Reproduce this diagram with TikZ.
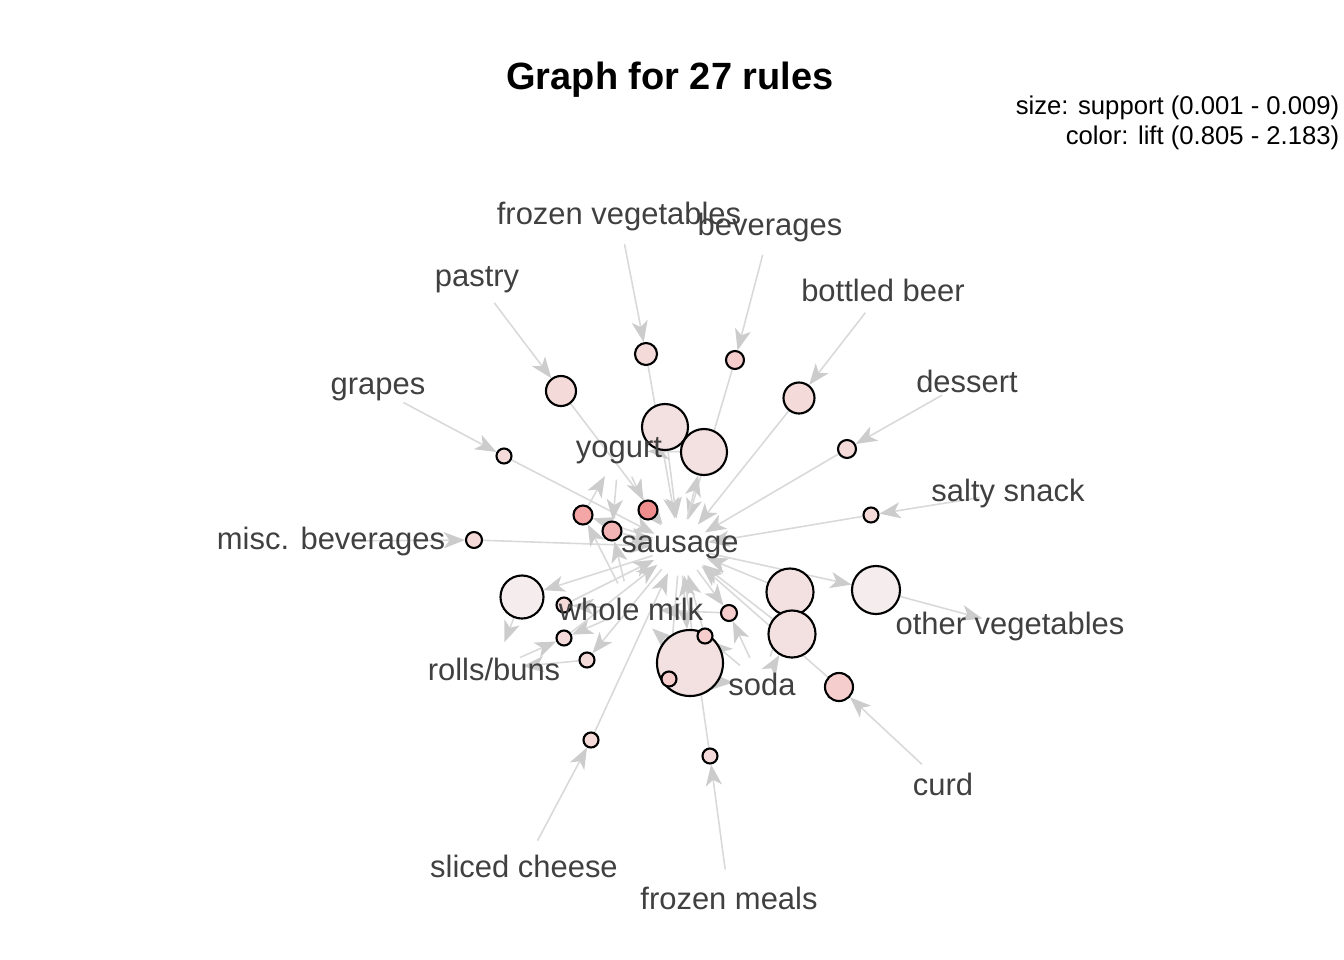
\documentclass[tikz,border=0pt]{standalone}
\usepackage{fontspec}
\setmainfont{Liberation Sans}
\usepackage{xcolor}
\usetikzlibrary{positioning,shapes,arrows.meta,calc,backgrounds}

\definecolor{lblgray}{HTML}{404040}
\definecolor{pale}{HTML}{F5EDED}
\definecolor{midA}{HTML}{F3E0E0}
\definecolor{pinkA}{HTML}{F5DADA}
\definecolor{pinkB}{HTML}{F5CDCD}
\definecolor{redA}{HTML}{F4A6A6}
\definecolor{redB}{HTML}{F2B4B4}
\definecolor{redC}{HTML}{EF8C8C}

\begin{document}
\begin{tikzpicture}[x=0.01cm,y=-0.01cm,
    item/.style={circle,inner sep=0pt,minimum size=5.6mm},
    rule/.style={circle,draw=black,semithick,inner sep=0pt},
    lbl/.style={text=lblgray,font=\fontsize{8.8}{10}\selectfont,inner sep=0pt},
    legend/.style={anchor=east,inner sep=0pt,font=\fontsize{7.3}{9}\selectfont},
    link/.style={draw=gray!30,line width=0.45pt,
        -{Stealth[length=6pt,width=4.6pt,inset=1.6pt,color=gray!40]}}]
    \useasboundingbox (0,0) rectangle (1344,960);

    % title and legend
    \node[font=\fontsize{10.8}{13}\selectfont\bfseries] (title) at (670,80) {Graph for 27 rules};
    \node[legend] (sizeleg) at (1340,108) {size: support (0.001 - 0.009)};
    \node[legend] (colleg) at (1340,138) {color: lift (0.805 - 2.183)};

    % item vertices
    \foreach \n/\x/\y in {fv/619/216, bev/770/227, pastry/477/280, beer/883/290,
                          grapes/378/389, dessert/967/381, yogurt/619/451, salty/1008/493,
                          misc/331/541, sausage/680/547, milk/631/609, otherveg/1010/626,
                          rolls/494/669, soda/762/684, curd/943/784, cheese/524/866,
                          meals/729/898}
        \node[item] (\n) at (\x,\y) {};

    % rule vertices
    \foreach \n/\x/\y/\r/\c in {r1/646/354/11/pinkA, r2/735/360/9/pinkB, r3/561/391/15/pinkA,
                                r4/799/398/15.5/pinkA, r5/504/456/7.5/pinkA, r6/847/449/9/pinkA,
                                r7/665/427/23/midA, r8/704/452/23/midA, r9/871/515/7.5/pinkA,
                                r10/474/540/8/pinkA, r11/583/515/9.5/redA, r12/612/531/9.5/redB,
                                r13/648/510/9.5/redC, r14/522/597/21.5/pale, r15/564/605/7.5/pinkA,
                                r16/564/638/7.5/pinkA, r17/587/660/7.5/pinkA, r18/690/663/33/midA,
                                r19/669/679/7.5/pinkB, r20/705/636/7.5/pinkB, r21/729/613/8/pinkB,
                                r22/790/592/23.5/midA, r23/792/634/23.5/midA, r24/876/590/24/pale,
                                r25/839/687/14/pinkB, r26/591/740/7.5/pinkA, r27/710/756/7.5/pinkA}
        \node[rule,fill=\c,minimum size=\r*0.2mm] (\n) at (\x,\y) {};

    % connectors
    \begin{scope}[on background layer]
    \foreach \a/\b in {fv/r1, r1/sausage, bev/r2, r2/sausage, pastry/r3, r3/sausage,
                       beer/r4, r4/sausage, grapes/r5, r5/sausage, dessert/r6, r6/sausage,
                       yogurt/r7, r7/sausage, sausage/r8, r8/yogurt, salty/r9, r9/sausage,
                       misc/r10, r10/sausage, sausage/r11, milk/r11, r11/yogurt,
                       yogurt/r12, milk/r12, r12/sausage, yogurt/r13, r13/sausage,
                       sausage/r14, r14/rolls, milk/r15, r15/sausage,
                       rolls/r16, milk/r16, r16/sausage, sausage/r17, r17/rolls,
                       sausage/r18, r18/milk, sausage/r19, r19/soda,
                       soda/r20, r20/sausage, sausage/r21, soda/r21, r21/milk,
                       soda/r22, r22/sausage, soda/r23, r23/sausage,
                       sausage/r24, r24/otherveg, curd/r25, r25/sausage,
                       cheese/r26, r26/sausage, meals/r27, r27/sausage}
        \draw[link] (\a) -- (\b);
    \end{scope}

    % item labels
    \foreach \n/\t in {fv/frozen vegetables, bev/beverages, pastry/pastry, beer/bottled beer,
                       grapes/grapes, dessert/dessert, yogurt/yogurt, salty/salty snack,
                       misc/misc. beverages, sausage/sausage, milk/whole milk,
                       otherveg/other vegetables, rolls/{rolls/buns}, soda/soda, curd/curd,
                       cheese/sliced cheese, meals/frozen meals}
        \node[lbl] (\n-t) at (\n) {\t};
\end{tikzpicture}
\end{document}
